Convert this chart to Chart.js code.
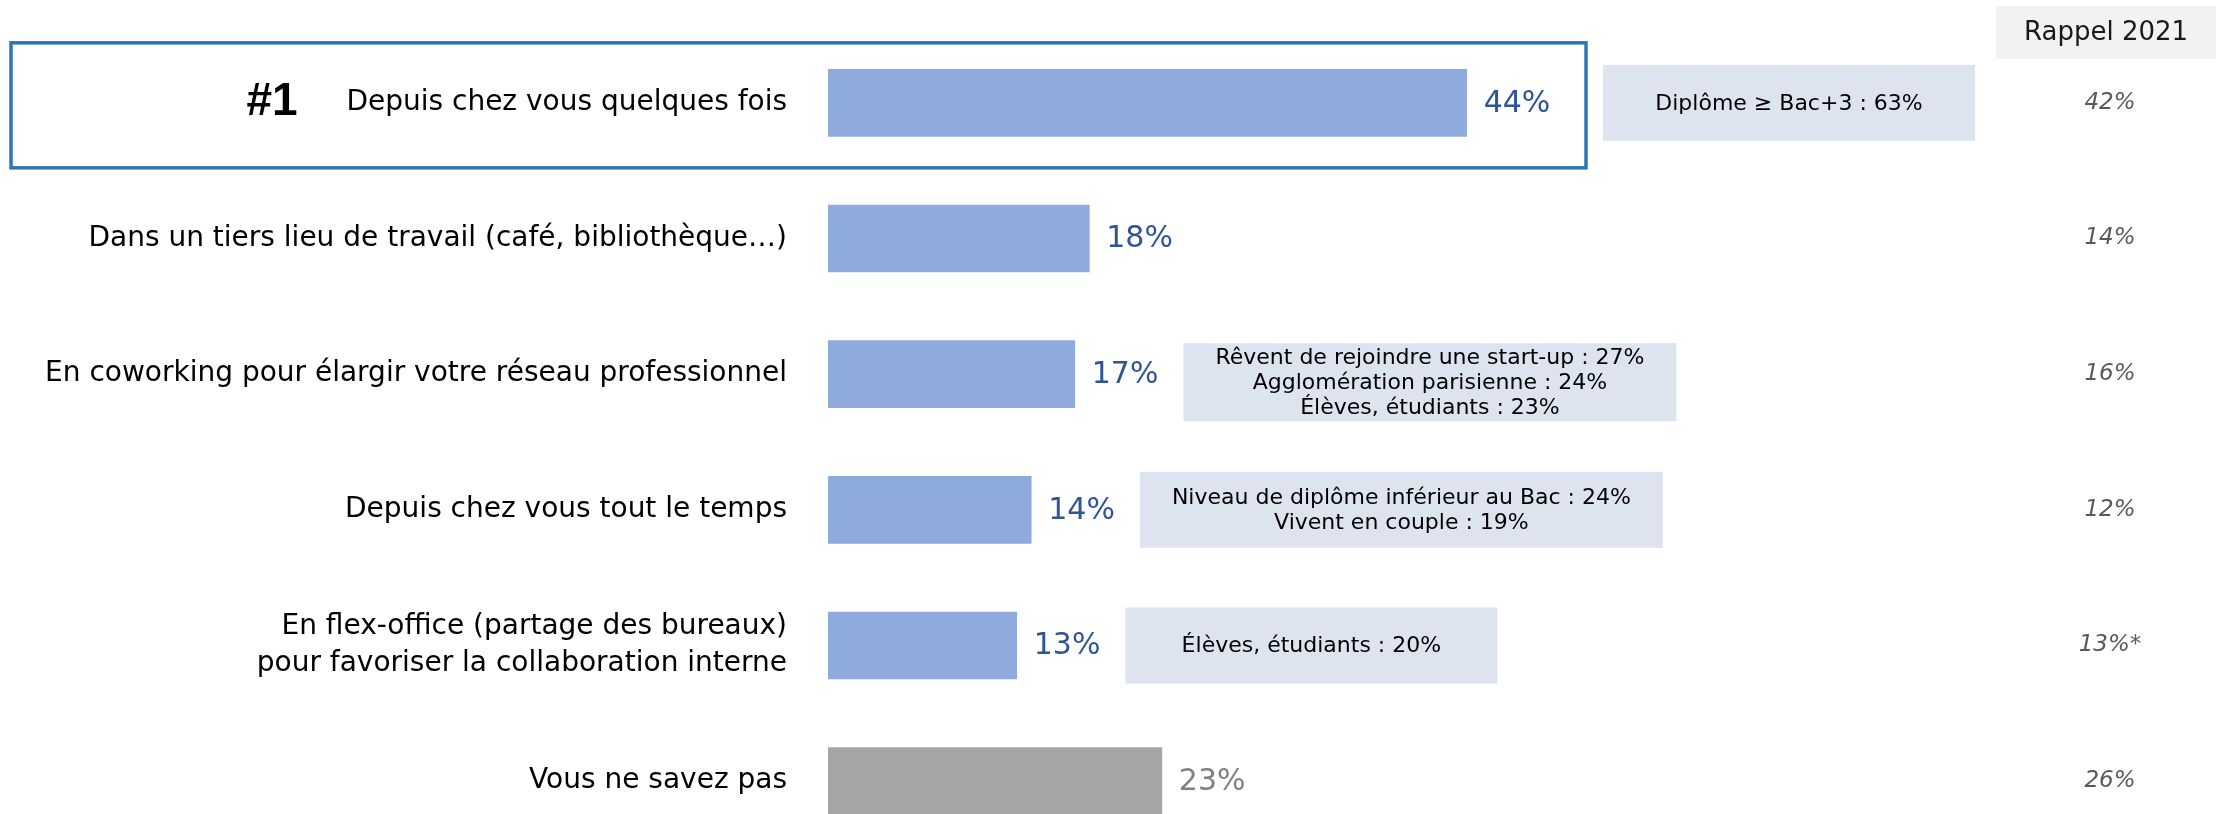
<!DOCTYPE html>
<html>
<head>
<meta charset="utf-8">
<script src="https://cdn.jsdelivr.net/npm/chart.js@4.4.1/dist/chart.umd.min.js"></script>
<style>
  html, body { margin: 0; background: #fff; overflow: hidden; }
  #wrap { width: 2216px; height: 814px; overflow: hidden; }
  canvas { display: block; }
</style>
</head>
<body>
<div id="wrap"><canvas id="chart" width="2216" height="849"></canvas></div>
<script>
const categories = [
    'Depuis chez vous quelques fois',
    'Dans un tiers lieu de travail (café, bibliothèque…)',
    'En coworking pour élargir votre réseau professionnel',
    'Depuis chez vous tout le temps',
    ['En flex-office (partage des bureaux)', 'pour favoriser la collaboration interne'],
    'Vous ne savez pas',
];
const values2023 = [44, 18, 17, 14, 13, 23];
const rappel2021 = ['42%', '14%', '16%', '12%', '13%*', '26%'];
const notes = [
    ['Diplôme ≥ Bac+3 : 63%'],
    [],
    ['Rêvent de rejoindre une start-up : 27%', 'Agglomération parisienne : 24%', 'Élèves, étudiants : 23%'],
    ['Niveau de diplôme inférieur au Bac : 24%', 'Vivent en couple : 19%'],
    ['Élèves, étudiants : 20%'],
    [],
];
const rappelTitle = 'Rappel 2021';
const rankLabel = '#1';

const FONT = '"DejaVu Sans", Verdana, sans-serif';
const BLUE = '#8FAADC';
const GREY = '#A5A5A5';

// draws labels, values, side notes and the "Rappel 2021" column
const overlay = {
    id: 'overlay',
    afterDatasetsDraw(chart) {
        const { ctx, chartArea, scales: { y } } = chart;
        const bars = chart.getDatasetMeta(0).data;
        const last = categories.length - 1;
        ctx.save();
        ctx.textBaseline = 'middle';

        // highlight frame around the first row
        const y0 = y.getPixelForValue(0);
        ctx.strokeStyle = '#2E75B6';
        ctx.lineWidth = 3.5;
        ctx.strokeRect(11, y0 - 60, 1575, 125);
        ctx.fillStyle = '#000';
        ctx.font = 'bold 46px "Liberation Sans", Arial, sans-serif';
        ctx.textAlign = 'center';
        ctx.fillText(rankLabel, 272, y0 - 1);

        // header of the 2021 column
        ctx.fillStyle = '#F2F2F2';
        ctx.fillRect(1996, 6, 220, 53);
        ctx.fillStyle = '#1a1a1a';
        ctx.font = '26px ' + FONT;
        ctx.fillText(rappelTitle, 2106, 33);

        categories.forEach((cat, i) => {
            const yc = y.getPixelForValue(i);
            const bar = bars[i];

            // category label
            ctx.fillStyle = '#000';
            ctx.font = '28px ' + FONT;
            ctx.textAlign = 'right';
            const lines = Array.isArray(cat) ? cat : [cat];
            const lh = 37;
            lines.forEach((l, k) => {
                ctx.fillText(l, chartArea.left - 41, yc + (k - (lines.length - 1) / 2) * lh);
            });

            // value label
            ctx.font = '30px ' + FONT;
            ctx.textAlign = 'left';
            ctx.fillStyle = i === last ? '#808080' : '#2F5597';
            const txt = values2023[i] + '%';
            const vx = bar.x + 17;
            ctx.fillText(txt, vx, yc + 1);
            const labelEnd = vx + ctx.measureText(txt).width;

            // note box
            const note = notes[i];
            if (note.length) {
                ctx.font = '22px ' + FONT;
                const tw = Math.max(...note.map(t => ctx.measureText(t).width));
                const w = Math.max(372, tw + 64);
                const h = note.length > 2 ? 78 : 76;
                const yb = yc + (note.length > 2 ? 8 : 0);
                const left = i === 0 ? 1586 + 17 : labelEnd + 25;
                ctx.fillStyle = '#DEE4EF';
                ctx.fillRect(left, yb - h / 2, w, h);
                ctx.fillStyle = '#000';
                ctx.textAlign = 'center';
                note.forEach((t, k) => {
                    ctx.fillText(t, left + w / 2, yb + 1 + (k - (note.length - 1) / 2) * 25);
                });
            }

            // 2021 value
            ctx.fillStyle = '#595959';
            ctx.font = 'italic 23px ' + FONT;
            ctx.textAlign = 'center';
            ctx.fillText(rappel2021[i], 2110, yc);
        });
        ctx.restore();
    }
};

new Chart(document.getElementById('chart'), {
    type: 'bar',
    data: {
        labels: categories,
        datasets: [{
            data: values2023,
            backgroundColor: values2023.map((v, i) => i === values2023.length - 1 ? GREY : BLUE),
            barThickness: 67,
            borderWidth: 0,
        }],
    },
    options: {
        indexAxis: 'y',
        responsive: false,
        animation: false,
        devicePixelRatio: 1,
        layout: { padding: { left: 828, right: 9, top: 35, bottom: 0 } },
        plugins: { legend: { display: false }, tooltip: { enabled: false } },
        scales: {
            x: { min: 0, max: 95, display: false },
            y: { display: false, offset: true },
        },
    },
    plugins: [overlay],
});
</script>
</body>
</html>
